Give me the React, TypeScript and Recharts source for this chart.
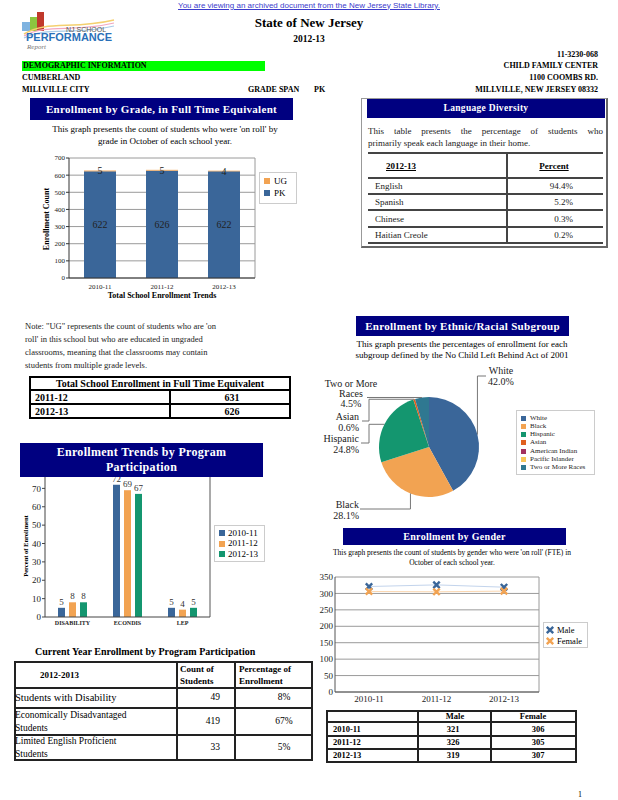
import React, { type ReactNode, type CSSProperties } from 'react';
import {
  Bar,
  BarChart,
  CartesianGrid,
  Cell,
  LabelList,
  Line,
  LineChart,
  Pie,
  PieChart,
  XAxis,
  YAxis,
} from 'recharts';

const SERIF = '"Liberation Serif", "Times New Roman", serif';
const SANS = '"Liberation Sans", Arial, sans-serif';
const NAVY = '#000080';
const BLUE = '#3a6699';
const ORANGE = '#f2a352';
const GREEN = '#14966f';

// Enrollment by grade
const gradeYears = ['2010-11', '2011-12', '2012-13'];
const pkCounts = [622, 626, 622];
const ugCounts = [5, 5, 4];
const gradeTicks = [0, 100, 200, 300, 400, 500, 600, 700];

// Program participation (percent of enrollment)
const programs = ['DISABILITY', 'ECONDIS', 'LEP'];
const programYears = ['2010-11', '2011-12', '2012-13'];
const program1011 = [5, 72, 5];
const program1112 = [8, 69, 4];
const program1213 = [8, 67, 5];
const programTicks = [0, 10, 20, 30, 40, 50, 60, 70];

// Ethnic / racial subgroup
const ethNames = ['White', 'Black', 'Hispanic', 'Asian', 'American Indian', 'Pacific Islander', 'Two or More Races'];
const ethPercents = [42.0, 28.1, 24.8, 0.6, 0, 0, 4.5];
const ethColors = [BLUE, ORANGE, GREEN, '#e0601f', '#a3305f', '#f7c65a', '#2f7891'];

// Gender
const genderYears = ['2010-11', '2011-12', '2012-13'];
const maleCounts = [321, 326, 319];
const femaleCounts = [306, 305, 307];
const genderTicks = [0, 50, 100, 150, 200, 250, 300, 350];

// Tables
const languages = ['English', 'Spanish', 'Chinese', 'Haitian Creole'];
const languagePercents = ['94.4%', '5.2%', '0.3%', '0.2%'];
const totalYears = ['2011-12', '2012-13'];
const totalFte = [631, 626];
const currentPrograms = [['Students with Disability'], ['Economically Disadvantaged', 'Students'], ['Limited English Proficient', 'Students']];
const currentCounts = [49, 419, 33];
const currentPercents = ['8%', '67%', '5%'];

const gradeData = gradeYears.map((year, i) => ({ year, PK: pkCounts[i], UG: ugCounts[i] }));
const programData = programs.map((program, i) => ({
  program,
  [programYears[0]]: program1011[i],
  [programYears[1]]: program1112[i],
  [programYears[2]]: program1213[i],
}));
const ethData = ethNames.map((name, i) => ({ name, value: ethPercents[i] }));
const genderData = genderYears.map((year, i) => ({ year, Male: maleCounts[i], Female: femaleCounts[i] }));

// pie label routes, in the pie chart's own pixel space (chart origin at 320,360 on the page)
const ETH_LABELS: Record<string, { route: (ex: number, ey: number) => number[][]; lines: [string, number, number, 'start' | 'middle' | 'end'][] }> = {
  White: { route: (ex) => [[ex, 16], [166, 16]], lines: [['White', 181, 10, 'middle'], ['42.0%', 181, 21, 'middle']] },
  Black: { route: (ex) => [[ex, 149], [40, 149]], lines: [['Black', 39, 144, 'end'], ['28.1%', 39, 155, 'end']] },
  Hispanic: { route: (_ex, ey) => [[49, ey], [49, 83], [41, 83]], lines: [['Hispanic', 39, 78, 'end'], ['24.8%', 39, 89, 'end']] },
  Asian: { route: (_ex, ey) => [[49, ey], [49, 61], [42, 61]], lines: [['Asian', 39, 56, 'end'], ['0.6%', 39, 67, 'end']] },
  'Two or More Races': { route: (_ex, ey) => [[47, ey]], lines: [['Two or More', 31, 23, 'middle'], ['Races', 31, 33, 'middle'], ['4.5%', 31, 43, 'middle']] },
};

const RADIAN = Math.PI / 180;

function renderEthLabel(props: any) {
  const { cx, cy, midAngle, outerRadius, index, value } = props;
  if (!value) return null;
  const cfg = ETH_LABELS[ethNames[index]];
  if (!cfg) return null;
  const ex = cx + outerRadius * Math.cos(-midAngle * RADIAN);
  const ey = cy + outerRadius * Math.sin(-midAngle * RADIAN);
  const pts = [[ex, ey], ...cfg.route(ex, ey)];
  return (
    <g key={`lbl-${index}`}>
      <polyline points={pts.map((p) => p.join(',')).join(' ')} fill="none" stroke="#777" strokeWidth={1} />
      {cfg.lines.map(([txt, x, y, anchor]) => (
        <text key={txt} x={x} y={y} textAnchor={anchor} dominantBaseline="central" fontSize={10} fontFamily={SERIF} fill="#222">
          {txt}
        </text>
      ))}
    </g>
  );
}

function XMark(props: any) {
  const { cx, cy, color } = props;
  if (cx == null || cy == null) return null;
  const s = 3.2;
  return (
    <path
      d={`M${cx - s},${cy - s}L${cx + s},${cy + s}M${cx + s},${cy - s}L${cx - s},${cy + s}`}
      stroke={color}
      strokeWidth={2.4}
      fill="none"
    />
  );
}

type TProps = {
  x: number;
  y: number;
  size: number;
  bold?: boolean;
  align?: 'left' | 'center' | 'right';
  color?: string;
  font?: string;
  style?: CSSProperties;
  children: ReactNode;
};

// text placed by its vertical centre; x is the left, centre or right edge depending on align
function T({ x, y, size, bold, align = 'left', color = '#000', font = SERIF, style, children }: TProps) {
  const shift = align === 'center' ? 'translateX(-50%)' : align === 'right' ? 'translateX(-100%)' : undefined;
  return (
    <div
      style={{
        position: 'absolute',
        left: x,
        top: y - size / 2,
        fontSize: size,
        lineHeight: `${size}px`,
        fontWeight: bold ? 700 : 400,
        fontFamily: font,
        color,
        whiteSpace: 'nowrap',
        transform: shift,
        ...style,
      }}
    >
      {children}
    </div>
  );
}

function Box({ x, y, w, h, style }: { x: number; y: number; w: number; h: number; style?: CSSProperties }) {
  return <div style={{ position: 'absolute', left: x, top: y, width: w, height: h, boxSizing: 'border-box', ...style }} />;
}

function Header({ x, y, w, h, lines, size }: { x: number; y: number; w: number; h: number; lines: string[]; size: number }) {
  return (
    <div
      style={{
        position: 'absolute',
        left: x,
        top: y,
        width: w,
        height: h,
        background: NAVY,
        color: '#fff',
        fontFamily: SERIF,
        fontWeight: 700,
        fontSize: size,
        lineHeight: `${size + 3}px`,
        display: 'flex',
        flexDirection: 'column',
        justifyContent: 'center',
        alignItems: 'center',
        letterSpacing: 0.3,
      }}
    >
      {lines.map((l) => (
        <div key={l}>{l}</div>
      ))}
    </div>
  );
}

function Lines({ xs, ys, color = '#000', outer = 2, inner = 1.5, skipV = [] }: { xs: number[]; ys: number[]; color?: string; outer?: number; inner?: number; skipV?: number[] }) {
  const top = ys[0];
  const bottom = ys[ys.length - 1];
  const left = xs[0];
  const right = xs[xs.length - 1];
  return (
    <>
      {ys.map((y, i) => {
        const w = i === 0 || i === ys.length - 1 ? outer : inner;
        return <Box key={`h${i}`} x={left - outer / 2} y={y - w / 2} w={right - left + outer} h={w} style={{ background: color }} />;
      })}
      {xs.map((x, i) => {
        const w = i === 0 || i === xs.length - 1 ? outer : inner;
        const t = skipV.includes(i) ? ys[1] : top;
        return <Box key={`v${i}`} x={x - w / 2} y={t} w={w} h={bottom - t} style={{ background: color }} />;
      })}
    </>
  );
}

function VLabel({ x, y, size, children }: { x: number; y: number; size: number; children: ReactNode }) {
  return (
    <div
      style={{
        position: 'absolute',
        left: x,
        top: y,
        transform: 'translate(-50%, -50%) rotate(-90deg)',
        fontFamily: SERIF,
        fontWeight: 700,
        fontSize: size,
        whiteSpace: 'nowrap',
      }}
    >
      {children}
    </div>
  );
}

function Logo() {
  return (
    <svg style={{ position: 'absolute', left: 22, top: 10 }} width={94} height={48}>
      <rect x={0} y={12} width={8} height={9} fill="#7fb3e0" />
      <rect x={8} y={7} width={7} height={14} fill="#8cc63f" />
      <rect x={15} y={2} width={7} height={19} fill="#c0392b" />
      <path d="M2,24 C25,10 50,20 92,10" stroke="#f4d06f" strokeWidth={1.5} fill="none" />
      <path d="M2,26 C25,13 50,23 92,13" stroke="#f2a7c0" strokeWidth={1.2} fill="none" />
      <path d="M2,28 C25,16 50,26 92,16" stroke="#a9cbe8" strokeWidth={1.2} fill="none" />
      <text x={44} y={22} fontSize={7} fontFamily={SANS} fill="#555">NJ SCHOOL</text>
      <text x={4} y={31} fontSize={10} fontWeight={700} fontFamily={SANS} fill="#2a70b8" textLength={86} lengthAdjust="spacingAndGlyphs">
        PERFORMANCE
      </text>
      <text x={5} y={39} fontSize={7} fontStyle="italic" fontFamily={SERIF} fill="#777">Report</text>
    </svg>
  );
}

const axisTick = (size: number, bold = false) => ({ fontSize: size, fill: '#222', fontFamily: SERIF, fontWeight: bold ? 700 : 400 });

function GradeChart() {
  return (
    <div style={{ position: 'absolute', left: 20, top: 150 }}>
      <BarChart width={240} height={140} data={gradeData} margin={{ top: 8, right: 5, left: 0, bottom: 0 }}>
        <CartesianGrid stroke="#9a9a9a" vertical verticalPoints={[235]} />
        <XAxis dataKey="year" height={12} tickLine={false} tickSize={4} tick={axisTick(7)} stroke="#333" />
        <YAxis domain={[0, 700]} ticks={gradeTicks} interval={0} width={49} tickSize={3} tickMargin={1} tick={axisTick(7)} stroke="#333" />
        <Bar dataKey="PK" stackId="g" fill={BLUE} barSize={32} isAnimationActive={false}>
          <LabelList dataKey="PK" position="center" fill="#222" fontSize={10} fontFamily={SERIF} />
        </Bar>
        <Bar dataKey="UG" stackId="g" fill={ORANGE} barSize={32} isAnimationActive={false}>
          <LabelList dataKey="UG" position="center" fill="#222" fontSize={10} fontFamily={SERIF} />
        </Bar>
      </BarChart>
    </div>
  );
}

function ProgramChart() {
  const colors = [BLUE, ORANGE, GREEN];
  return (
    <div style={{ position: 'absolute', left: 0, top: 470 }}>
      <BarChart width={215} height={160} data={programData} margin={{ top: 0, right: 5, left: 0, bottom: 0 }} barSize={7} barGap={4}>
        <CartesianGrid horizontal={false} vertical verticalPoints={[210]} stroke="#555" />
        <XAxis dataKey="program" height={13} tickLine={false} tickSize={2} tick={axisTick(6, true)} stroke="#444" />
        <YAxis domain={[0, 80]} ticks={programTicks} interval={0} width={45} tickSize={3} tickMargin={1} tick={axisTick(9)} stroke="#444" />
        {programYears.map((yr, i) => (
          <Bar key={yr} dataKey={yr} fill={colors[i]} isAnimationActive={false}>
            <LabelList dataKey={yr} position="top" offset={3} fill="#333" fontSize={9} fontFamily={SERIF} />
          </Bar>
        ))}
      </BarChart>
    </div>
  );
}

function EthnicPie() {
  return (
    <div style={{ position: 'absolute', left: 320, top: 360 }}>
      <PieChart width={200} height={170}>
        <Pie
          data={ethData}
          dataKey="value"
          nameKey="name"
          cx={104}
          cy={82}
          outerRadius={50}
          startAngle={90}
          endAngle={-270}
          stroke="none"
          label={renderEthLabel}
          labelLine={false}
          isAnimationActive={false}
        >
          {ethData.map((d, i) => (
            <Cell key={d.name} fill={ethColors[i]} />
          ))}
        </Pie>
      </PieChart>
    </div>
  );
}

function GenderChart() {
  return (
    <div style={{ position: 'absolute', left: 318, top: 570 }}>
      <LineChart width={225} height={140} data={genderData} margin={{ top: 7, right: 4, left: 0, bottom: 0 }}>
        <CartesianGrid stroke="#9a9a9a" vertical verticalPoints={[221]} />
        <XAxis dataKey="year" padding={{ left: 34, right: 35 }} height={18} tickLine={false} tickSize={2} tick={axisTick(9)} stroke="#555" />
        <YAxis domain={[0, 350]} ticks={genderTicks} interval={0} width={17} tickLine={false} tickSize={0} tickMargin={2} tick={axisTick(9)} stroke="#555" />
        <Line dataKey="Male" stroke="#c3d4ec" strokeWidth={1} dot={<XMark color={BLUE} />} isAnimationActive={false} />
        <Line dataKey="Female" stroke="#fbd7b1" strokeWidth={1} dot={<XMark color={ORANGE} />} isAnimationActive={false} />
      </LineChart>
    </div>
  );
}

function Square({ x, y, color, s = 6 }: { x: number; y: number; color: string; s?: number }) {
  return <Box x={x} y={y - s / 2} w={s} h={s} style={{ background: color }} />;
}

export default function App() {
  return (
    <div style={{ position: 'absolute', left: 0, top: 0, width: 618, height: 800, background: '#fff', overflow: 'hidden', fontFamily: SERIF }}>
      <T x={309} y={5.5} size={8} align="center" color="#3b3bcc" font={SANS} style={{ textDecoration: 'underline' }}>
        You are viewing an archived document from the New Jersey State Library.
      </T>
      <Logo />
      <T x={309} y={22} size={13} bold align="center">State of New Jersey</T>
      <T x={309} y={40} size={9.5} bold align="center">2012-13</T>
      <T x={598} y={55} size={8} bold align="right">11-3230-068</T>
      <Box x={22} y={61} w={243} h={10} style={{ background: '#00ff00' }} />
      <T x={23} y={66} size={8} bold>DEMOGRAPHIC INFORMATION</T>
      <T x={598} y={66} size={8} bold align="right">CHILD FAMILY CENTER</T>
      <T x={22} y={78} size={8} bold>CUMBERLAND</T>
      <T x={598} y={78} size={8} bold align="right">1100 COOMBS RD.</T>
      <T x={22} y={90} size={8} bold>MILLVILLE CITY</T>
      <T x={248} y={90} size={8} bold>GRADE SPAN</T>
      <T x={314} y={90} size={8} bold>PK</T>
      <T x={598} y={90} size={8} bold align="right">MILLVILLE, NEW JERSEY 08332</T>

      {/* Enrollment by grade */}
      <Header x={30} y={98} w={263} h={22} size={11} lines={['Enrollment by Grade, in Full Time Equivalent']} />
      <T x={165} y={129} size={9} align="center">This graph presents the count of students who were 'on roll' by</T>
      <T x={165} y={141} size={9} align="center">grade in October of each school year.</T>
      <GradeChart />
      <VLabel x={46} y={219} size={8}>Enrollment Count</VLabel>
      <T x={162} y={296} size={8} bold align="center">Total School Enrollment Trends</T>
      <Box x={259} y={172} w={38} h={32} style={{ border: '1px solid #ccc' }} />
      <Square x={264} y={181} color={ORANGE} />
      <T x={274} y={181} size={9}>UG</T>
      <Square x={264} y={193} color={BLUE} />
      <T x={274} y={193} size={9}>PK</T>

      {/* Language diversity */}
      <Box x={361} y={98} w={247} h={150} style={{ border: '1px solid #999', borderRightWidth: 2, borderBottomWidth: 2, borderRightColor: '#666', borderBottomColor: '#666' }} />
      <Header x={367} y={99} w={238} h={19} size={9.5} lines={['Language Diversity']} />
      <div style={{ position: 'absolute', left: 368, top: 125, width: 235, fontSize: 9, lineHeight: '12px', fontFamily: SERIF, color: '#222' }}>
        <div style={{ textAlign: 'justify', textAlignLast: 'justify' }}>This table presents the percentage of students who</div>
        <div>primarily speak each language in their home.</div>
      </div>
      <Lines xs={[367, 507, 604]} ys={[153, 178, 194, 210, 227, 243]} color="#444" outer={1.5} inner={1.5} />
      <Box x={366} y={152} w={1.5} h={92} style={{ background: '#fff' }} />
      <Box x={603} y={152} w={1.5} h={92} style={{ background: '#fff' }} />
      <T x={401} y={166} size={9} bold align="center" style={{ textDecoration: 'underline' }}>2012-13</T>
      <T x={554} y={166} size={9} bold align="center" style={{ textDecoration: 'underline' }}>Percent</T>
      {languages.map((l, i) => (
        <React.Fragment key={l}>
          <T x={375} y={186 + i * 16.5} size={9} color="#222">{l}</T>
          <T x={573} y={186 + i * 16.5} size={9} align="right" color="#222">{languagePercents[i]}</T>
        </React.Fragment>
      ))}

      {/* Note + total table */}
      {[
        'Note: "UG" represents the count of students who are \'on',
        "roll' in this school but who are educated in ungraded",
        'classrooms, meaning that the classrooms may contain',
        'students from multiple grade levels.',
      ].map((l, i) => (
        <T key={l} x={25} y={326 + i * 13} size={8.5} color="#222">{l}</T>
      ))}
      <Lines xs={[30, 170, 290]} ys={[377, 390, 404, 418]} skipV={[1]} />
      <T x={160} y={384} size={10} bold align="center">Total School Enrollment in Full Time Equivalent</T>
      {totalYears.map((y, i) => (
        <React.Fragment key={y}>
          <T x={35} y={397.5 + i * 14} size={10} bold>{y}</T>
          <T x={232} y={397.5 + i * 14} size={10} bold align="center">{totalFte[i]}</T>
        </React.Fragment>
      ))}

      {/* Ethnic */}
      <Header x={356} y={316} w={213} h={20} size={11} lines={['Enrollment by Ethnic/Racial Subgroup']} />
      <T x={462} y={344} size={9} align="center">This graph presents the percentages of enrollment for each</T>
      <T x={462} y={355} size={9} align="center">subgroup defined by the No Child Left Behind Act of 2001</T>
      <EthnicPie />
      <Box x={516} y={410} w={79} h={65} style={{ border: '1px solid #ccc' }} />
      {ethNames.map((n, i) => (
        <React.Fragment key={n}>
          <Square x={521} y={418 + i * 8.3} color={ethColors[i]} s={5} />
          <T x={530} y={418 + i * 8.3} size={7} color="#222">{n}</T>
        </React.Fragment>
      ))}

      {/* Program participation */}
      <ProgramChart />
      <Header x={20} y={443} w={243} h={34} size={12} lines={['Enrollment Trends by Program', 'Participation']} />
      <VLabel x={25} y={546} size={6.5}>Percent of Enrollment</VLabel>
      <Box x={214} y={525} w={51} h={37} style={{ border: '1px solid #ccc' }} />
      {programYears.map((yr, i) => (
        <React.Fragment key={yr}>
          <Square x={219} y={533 + i * 10.5} color={[BLUE, ORANGE, GREEN][i]} />
          <T x={228} y={533 + i * 10.5} size={9}>{yr}</T>
        </React.Fragment>
      ))}

      {/* Current year table */}
      <T x={35} y={652} size={10} bold>Current Year Enrollment by Program Participation</T>
      <Lines xs={[15, 177, 235, 312]} ys={[662, 688, 708, 735, 760]} color="#222" outer={1.5} inner={1.2} />
      <T x={40} y={675} size={9} bold>2012-2013</T>
      <T x={180} y={669} size={9} bold>Count of</T>
      <T x={180} y={681} size={9} bold>Students</T>
      <T x={239} y={669} size={9} bold>Percentage of</T>
      <T x={239} y={681} size={9} bold>Enrollment</T>
      {currentPrograms.map((lines, i) => {
        const mid = [698, 722, 748][i];
        return (
          <React.Fragment key={lines[0]}>
            {lines.map((l, j) => (
              <T key={l} x={15} y={lines.length === 1 ? mid : mid - 6 + j * 13} size={lines.length === 1 ? 10.5 : 9.5}>{l}</T>
            ))}
            <T x={220} y={mid} size={9.5} align="right">{currentCounts[i]}</T>
            <T x={284} y={mid} size={9.5} align="center">{currentPercents[i]}</T>
          </React.Fragment>
        );
      })}

      {/* Gender */}
      <Header x={343} y={528} w={223} h={17} size={10} lines={['Enrollment by Gender']} />
      <T x={452} y={553} size={7.5} align="center">This graph presents the count of students by gender who were 'on roll' (FTE) in</T>
      <T x={452} y={563} size={7.5} align="center">October of each school year.</T>
      <GenderChart />
      <Box x={543} y={622} w={45} h={26} style={{ border: '1px solid #ccc' }} />
      <svg style={{ position: 'absolute', left: 543, top: 622 }} width={14} height={26}>
        <XMark cx={7} cy={8} color={BLUE} />
        <XMark cx={7} cy={19} color={ORANGE} />
      </svg>
      <T x={557} y={630} size={8.5}>Male</T>
      <T x={557} y={641} size={8.5}>Female</T>
      <Lines xs={[327, 418, 491, 576]} ys={[711, 722, 736, 749, 762]} color="#222" outer={1.5} inner={1.2} />
      <T x={455} y={716.5} size={8.5} bold align="center">Male</T>
      <T x={533} y={716.5} size={8.5} bold align="center">Female</T>
      {genderYears.map((y, i) => (
        <React.Fragment key={y}>
          <T x={333} y={729 + i * 13.3} size={8.5} bold>{y}</T>
          <T x={453} y={729 + i * 13.3} size={8.5} bold align="center">{maleCounts[i]}</T>
          <T x={538} y={729 + i * 13.3} size={8.5} bold align="center">{femaleCounts[i]}</T>
        </React.Fragment>
      ))}

      <T x={578} y={795} size={8}>1</T>
    </div>
  );
}
